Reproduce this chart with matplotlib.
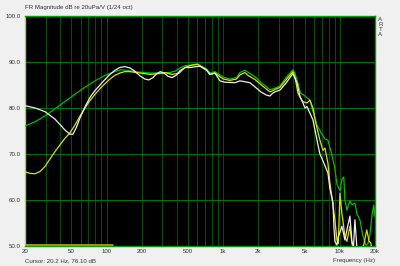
import matplotlib
matplotlib.use("Agg")
import matplotlib.pyplot as plt
from matplotlib.ticker import FixedLocator, NullFormatter

# curve data (Hz, dB)
green_hz = [20, 24.4, 29.7, 36.1, 44.0, 53.6, 65.3, 79.6, 97.0, 118, 133, 150, 175, 193,
            237, 289, 350, 386, 426, 470, 519, 600, 720, 770, 849, 1000, 1142, 1300, 1391,
            1530, 1650, 1870, 2150, 2515, 2776, 3070, 3500, 3958, 4117, 4371, 4600, 4900,
            5537, 5876, 6300, 6900, 7444, 7898, 8400, 9000, 9432, 10008, 10410, 10800, 11046,
            11488, 12190, 12682, 13456, 13996, 14852, 15650, 16700, 17392, 18090, 18812,
            19500, 20000]
green_db = [76.1, 77.0, 78.3, 79.8, 81.4, 83.0, 84.5, 85.9, 87.1, 87.9, 88.3, 88.2, 87.9, 87.8,
            87.6, 87.6, 87.7, 88.0, 88.7, 89.2, 89.3, 89.6, 88.5, 87.6, 87.9, 86.7, 86.3, 86.6,
            87.7, 88.2, 87.7, 86.8, 85.4, 84.0, 84.3, 84.8, 86.8, 88.3, 87.6, 85.4, 83.2, 82.8,
            81.7, 79.3, 76.5, 74.6, 73.3, 73.0, 70.5, 67.3, 63.5, 62.0, 64.5, 65.0, 60.0,
            57.8, 59.8, 59.0, 59.3, 57.0, 55.7, 52.5, 50.2, 50.5, 52.5, 56.5, 58.9, 56.5]

yellow_hz = [20, 22.1, 24.4, 26.9, 29.7, 32.7, 36.1, 39.9, 44.0, 48.6, 53.6, 59.1, 65.3, 72.1,
             79.6, 87.9, 97.0, 107, 118, 130, 143, 159, 193, 237, 289, 317, 364, 420, 470,
             519, 600, 720, 770, 849, 1000, 1142, 1300, 1391, 1530, 1650, 1870, 2150, 2515,
             2776, 3070, 3500, 3958, 4117, 4371, 4800, 5220, 5537, 5876, 6250, 6745, 7157,
             7444, 7898, 8214, 8716, 9066, 9432, 9700, 10008, 10410, 10600, 11046, 11488,
             12190, 12682, 13200, 14852, 16000, 17000, 17800, 18400, 18812]
yellow_db = [66.1, 65.8, 65.7, 66.2, 67.3, 68.9, 70.5, 72.0, 73.4, 74.6, 76.3, 78.2, 80.0, 81.6,
             83.0, 84.2, 85.3, 86.3, 87.1, 87.6, 87.9, 87.9, 87.6, 87.3, 87.5, 87.7, 87.3, 87.6,
             88.8, 89.2, 89.5, 88.3, 87.3, 87.6, 86.3, 86.0, 86.3, 87.2, 87.7, 87.0, 86.2, 84.9,
             83.5, 84.0, 84.5, 86.3, 87.9, 86.8, 83.2, 81.4, 81.1, 81.7, 80.0, 76.5, 73.0, 70.8,
             71.3, 68.0, 63.7, 59.0, 55.7, 51.3, 50.5, 61.5, 57.0, 55.7, 52.0, 51.0, 54.3, 50.5,
             49.0, 49.0, 50.2, 53.5, 51.0, 50.7, 49.0]

white_hz = [20, 24.4, 29.7, 32.7, 36.1, 39.9, 44.0, 48.6, 51.5, 55.0, 59.1, 65.3, 72.1,
            79.6, 87.9, 97.0, 107, 118, 130, 143, 159, 175, 193, 213, 230, 250, 270,
            289, 310, 336, 364, 400, 426, 470, 519, 631, 720, 770, 849, 938, 1035, 1260, 1391,
            1694, 1870, 2100, 2350, 2515, 2650, 2776, 3070, 3450, 3958, 4300, 4546, 4823,
            5016, 5220, 5537, 5876, 6485, 6745, 7157, 7898, 8214, 8716, 8900, 9066, 9432,
            9700, 10008, 10410, 11046, 11600, 12190, 12682, 13100, 13456, 14000]
white_db = [80.5, 80.0, 79.2, 78.4, 77.6, 76.4, 75.2, 74.3, 74.3, 75.7, 77.8, 80.2, 82.3,
            83.8, 85.0, 86.2, 87.3, 88.2, 88.8, 89.0, 88.7, 88.0, 87.0, 86.3, 86.1, 86.6,
            87.5, 87.9, 87.6, 86.9, 86.6, 87.2, 88.1, 88.8, 88.8, 89.1, 88.2, 87.3, 87.6, 85.9,
            85.6, 85.5, 85.9, 85.5, 84.6, 83.5, 82.8, 82.6, 83.2, 83.5, 83.9, 85.4, 87.5, 85.4,
            82.5, 81.1, 80.0, 80.3, 78.9, 77.4, 72.0, 70.0, 68.5, 65.9, 62.5, 59.5, 54.0, 51.0,
            50.2, 52.0, 53.0, 54.3, 51.3, 54.0, 56.5, 51.0, 50.0, 55.7, 49.5]

# flat marker band along the bottom
band_hz = [20, 113]
band_db = [50.2, 50.2]

x_ticks = [20, 50, 100, 200, 500, 1000, 2000, 5000, 10000, 20000]
x_tick_labels = ["20", "50", "100", "200", "500", "1k", "2k", "5k", "10k", "20k"]
y_ticks = [50, 60, 70, 80, 90, 100]
y_tick_labels = ["50.0", "60.0", "70.0", "80.0", "90.0", "100.0"]
grid_hz = [20, 30, 40, 50, 60, 70, 80, 90, 100, 200, 300, 400, 500, 600, 700, 800, 900,
           1000, 2000, 3000, 4000, 5000, 6000, 7000, 8000, 9000, 10000, 20000]

plt.rcParams["font.family"] = ["Liberation Sans", "DejaVu Sans"]
text_color = "#333333"
fs = 4.4

fig = plt.figure(figsize=(4.0, 2.66), dpi=100, facecolor="#f0f0f0")
ax = fig.add_axes([0.0625, 0.0752, 0.875, 0.8647])
ax.set_facecolor("black")
ax.set_xscale("log")
ax.set_xlim(20, 20000)
ax.set_ylim(50, 100)

for f in grid_hz:
    ax.axvline(f, color="#005000", lw=0.75, zorder=1)
for v in y_ticks[1:-1]:
    ax.axhline(v, color="#007400", lw=0.75, zorder=1)

ax.plot(band_hz, band_db, color="#a8a800", lw=2.0, zorder=2, solid_capstyle="butt")
ax.plot(green_hz, green_db, color="#00c000", lw=0.9, zorder=3)
ax.plot(yellow_hz, yellow_db, color="#e0e000", lw=0.9, zorder=4)
ax.plot(white_hz, white_db, color="#eeeeee", lw=0.9, zorder=5)

ax.xaxis.set_major_locator(FixedLocator(x_ticks))
ax.set_xticklabels(x_tick_labels)
ax.xaxis.set_minor_formatter(NullFormatter())
ax.set_yticks(y_ticks)
ax.set_yticklabels(y_tick_labels)
ax.tick_params(which="both", length=0, labelsize=fs, colors=text_color, pad=3)
ax.tick_params(axis="x", pad=2)

for side in ["top", "right", "bottom"]:
    ax.spines[side].set_color("#00a000")
    ax.spines[side].set_linewidth(1.0)
ax.spines["left"].set_color("#b0d060")
ax.spines["left"].set_linewidth(1.0)

fig.text(0.0625, 0.972, "FR Magnitude dB re 20uPa/V (1/24 oct)", fontsize=fs,
         color=text_color, ha="left", va="center")
fig.text(0.0625, 0.019, "Cursor: 20.2 Hz, 76.10 dB", fontsize=fs, color=text_color,
         ha="left", va="center")
fig.text(0.9375, 0.019, "Frequency (Hz)", fontsize=fs, color=text_color,
         ha="right", va="center")
fig.text(0.951, 0.935, "A\nR\nT\nA", fontsize=fs, color=text_color, ha="center", va="top",
         linespacing=0.95)

fig.savefig("out.png", dpi=100, facecolor=fig.get_facecolor())
